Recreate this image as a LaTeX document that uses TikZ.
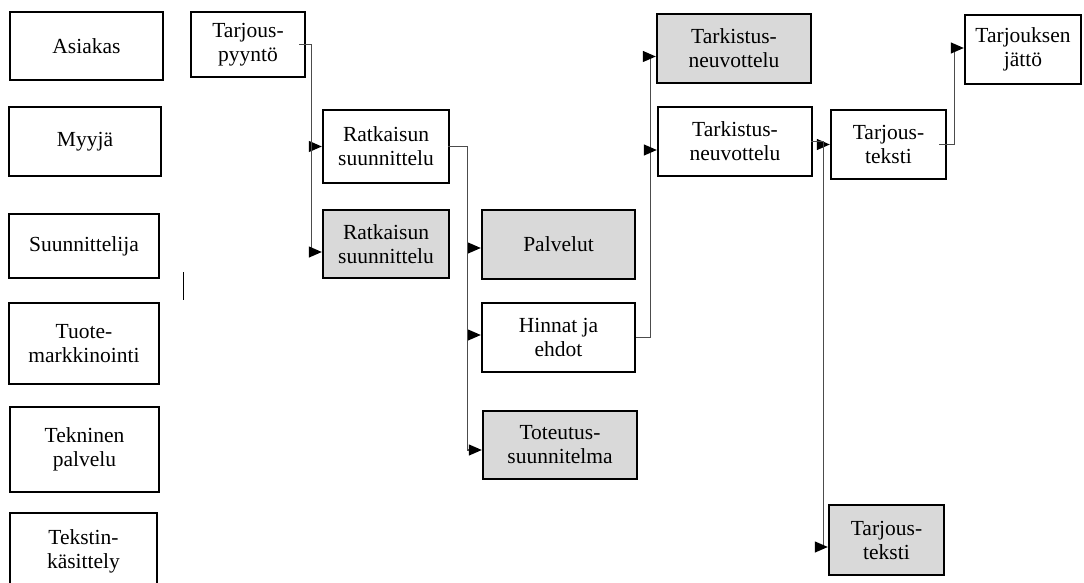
\documentclass[tikz,border=0pt]{standalone}
\usepackage{fontspec}
\setmainfont{Liberation Serif}
\usetikzlibrary{calc,arrows.meta,positioning}
\definecolor{boxgray}{RGB}{217,217,217}
\tikzset{
    role/.style={
    rectangle,draw=black,line width=2.4pt,align=center,inner sep=0pt,
    font=\fontsize{21.5}{24}\selectfont
    },
    task/.style={
    role
    },
    gtask/.style={
    role,fill=boxgray
    },
    flow/.style={
    draw=black!70,line width=1.2pt,-{Triangle[length=13pt,width=11pt,black]}
    },
}
\begin{document}
\begin{tikzpicture}[x=1pt,y=-1pt]
   \useasboundingbox (0,0) rectangle (1084,583);
   % roles
   \node[role,minimum width=153,minimum height=68] (asiakas) at (86.5,46) {Asiakas};
   \node[role,minimum width=152,minimum height=69] (myyja) at (85,141.5) {Myyjä};
   \node[role,minimum width=150,minimum height=64] (suunn) at (84,246) {Suunnittelija};
   \node[role,minimum width=150,minimum height=81] (tuote) at (84,343.5) {Tuote-\\markkinointi};
   \node[role,minimum width=149,minimum height=85] (tekn) at (84.5,449.5) {Tekninen\\palvelu};
   \node[role,minimum width=147,minimum height=77] (tekst) at (83.5,551.5) {Tekstin-\\käsittely};
   \draw[line width=1pt] (183,272) -- (183,300);
   % tasks
   \node[task,minimum width=114,minimum height=65] (tp) at (248,44.5) {Tarjous-\\pyyntö};
   \node[task,minimum width=126,minimum height=73] (rs1) at (386,146.5) {Ratkaisun\\suunnittelu};
   \node[gtask,minimum width=126,minimum height=68] (rs2) at (386,244) {Ratkaisun\\suunnittelu};
   \node[gtask,minimum width=153,minimum height=69] (palv) at (558.5,244.5) {Palvelut};
   \node[task,minimum width=153,minimum height=69] (hinnat) at (558.5,337.5) {Hinnat ja\\ehdot};
   \node[gtask,minimum width=154,minimum height=68] (tot) at (560,445) {Toteutus-\\suunnitelma};
   \node[gtask,minimum width=154,minimum height=69] (tark1) at (734,48.5) {Tarkistus-\\neuvottelu};
   \node[task,minimum width=154,minimum height=69] (tark2) at (735,141.5) {Tarkistus-\\neuvottelu};
   \node[task,minimum width=115,minimum height=69] (tt1) at (888.5,144.5) {Tarjous-\\teksti};
   \node[gtask,minimum width=115,minimum height=70] (tt2) at (886.5,540) {Tarjous-\\teksti};
   \node[task,minimum width=116,minimum height=69] (jatto) at (1023,49.5) {Tarjouksen\\jättö};

   \draw[flow] ([xshift=-7pt]tp.east) -- ++(12,0) |- (rs1.west);
   \draw[flow] ([xshift=-7pt]tp.east) -- ++(12,0) |- ($(rs2.west)+(0,8)$);
   \draw[flow] ([xshift=-2pt]rs1.east) -- ++(19,0) |- ($(palv.west)+(0,3.5)$);
   \draw[flow] ([xshift=-2pt]rs1.east) -- ++(19,0) |- ($(hinnat.west)+(0,-2.5)$);
   \draw[flow] ([xshift=-2pt]rs1.east) -- ++(19,0) |- ($(tot.west)+(0,5)$);
   \draw[flow] (hinnat.east) -- ++(14,0) |- ($(tark1.west)+(0,8)$);
   \draw[flow] (hinnat.east) -- ++(14,0) |- ($(tark2.west)+(0,8.5)$);
   \draw[flow] ([xshift=-2pt]tark2.east) -- ++(12,0) |- (tt1.west);
   \draw[flow] ([xshift=-2pt]tark2.east) -- ++(12,0) |- ($(tt2.west)+(0,7)$);
   \draw[flow] ([xshift=-8pt]tt1.east) -- ++(15,0) |- ($(jatto.west)+(0,-1.5)$);
\end{tikzpicture}
\end{document}
